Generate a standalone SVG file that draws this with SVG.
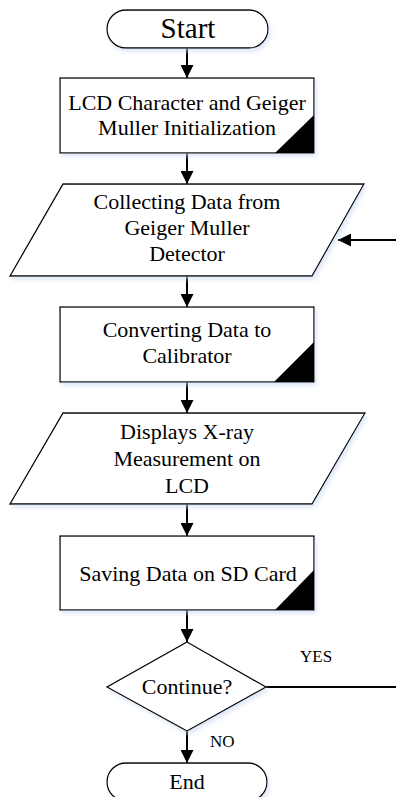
<svg xmlns="http://www.w3.org/2000/svg" width="396" height="797" viewBox="0 0 396 797">
<defs>
<marker id="ah" markerWidth="13" markerHeight="13" refX="13" refY="6.5" orient="auto" markerUnits="userSpaceOnUse">
<path d="M0,0 L13,6.5 L0,13 Z" fill="#000"/>
</marker>
<filter id="sh" x="-10%" y="-10%" width="130%" height="130%">
<feDropShadow dx="2" dy="3" stdDeviation="2" flood-color="#c8d8f0" flood-opacity="0.6"/>
</filter>
<style>
.s{fill:#fff;stroke:#000;stroke-width:1.3;filter:url(#sh)}
.t{font-size:22px;fill:#000;text-anchor:middle}
.c{stroke:#000;stroke-width:2;fill:none}
.a{marker-end:url(#ah)}
.lbl{font-size:17px;fill:#000}
</style>
</defs>
<rect width="396" height="797" fill="#fff"/>
<g font-family="Liberation Serif, Tinos, DejaVu Serif, serif">
<g id="connectors">
<line class="c a" x1="187" y1="48" x2="187" y2="78"/>
<line class="c a" x1="187" y1="153" x2="187" y2="184"/>
<line class="c a" x1="187" y1="276" x2="187" y2="307"/>
<line class="c a" x1="187" y1="382" x2="187" y2="413"/>
<line class="c a" x1="187" y1="504" x2="187" y2="536"/>
<line class="c a" x1="187" y1="610" x2="187" y2="642"/>
<line class="c a" x1="187" y1="731" x2="187" y2="763"/>
<line class="c" x1="266" y1="687" x2="396" y2="687"/>
<line class="c a" x1="396" y1="240" x2="338" y2="240"/>
<text class="lbl" x="300" y="662">YES</text>
<text class="lbl" x="210" y="747">NO</text>
</g>
<g id="start">
<rect class="s" x="107" y="10" width="161" height="38" rx="19" ry="19"/>
<text class="t" x="188" y="38" style="font-size:29px">Start</text>
</g>
<g id="init">
<rect class="s" x="60" y="78" width="254" height="75"/>
<path d="M275,153 L314,115 L314,153 Z" fill="#000"/>
<text class="t" x="187" y="110">LCD Character and Geiger</text>
<text class="t" x="187" y="135">Muller Initialization</text>
</g>
<g id="collect">
<path class="s" d="M63,184 L364,184 L312,276 L10,276 Z"/>
<text class="t" x="187" y="209">Collecting Data from</text>
<text class="t" x="187" y="235">Geiger Muller</text>
<text class="t" x="187" y="261">Detector</text>
</g>
<g id="convert">
<rect class="s" x="60" y="307" width="254" height="75"/>
<path d="M274,382 L314,342 L314,382 Z" fill="#000"/>
<text class="t" x="187" y="337">Converting Data to</text>
<text class="t" x="187" y="363">Calibrator</text>
</g>
<g id="display">
<path class="s" d="M63,413 L365,413 L312,504 L10,504 Z"/>
<text class="t" x="187" y="439">Displays X-ray</text>
<text class="t" x="187" y="466">Measurement on</text>
<text class="t" x="187" y="493">LCD</text>
</g>
<g id="save">
<rect class="s" x="60" y="536" width="254" height="74"/>
<path d="M275,610 L314,570 L314,610 Z" fill="#000"/>
<text class="t" x="188" y="581">Saving Data on SD Card</text>
</g>
<g id="decision">
<path class="s" d="M187,642 L266,687 L187,731 L107,687 Z"/>
<text class="t" x="187" y="694">Continue?</text>
</g>
<g id="end">
<rect class="s" x="107" y="763" width="160" height="38" rx="19" ry="19"/>
<text class="t" x="187" y="789">End</text>
</g>
</g>
</svg>
